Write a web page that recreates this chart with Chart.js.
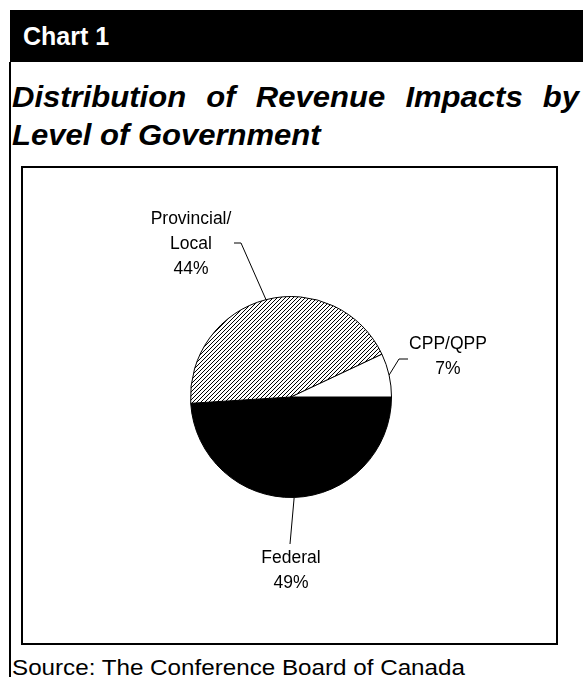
<!DOCTYPE html>
<html>
<head>
<meta charset="utf-8">
<script src="https://cdn.jsdelivr.net/npm/chart.js@4"></script>
<style>
  body { margin: 0; background: #fff; font-family: 'Liberation Sans', Arial, sans-serif; }
  #page { position: relative; width: 583px; height: 677px; overflow: hidden; }
  #hdr { position: absolute; left: 10px; top: 10px; width: 573px; height: 52px; background: #000; }
  #hdr span { position: absolute; left: 13px; top: 14px; color: #fff; font: bold 25px/25px 'Liberation Sans', Arial, sans-serif; }
  #rule { position: absolute; left: 9px; top: 62px; width: 2px; height: 615px; background: #000; }
  #title { position: absolute; left: 12px; top: 78px; width: 530px; font: italic bold 29px/38px 'Liberation Sans', Arial, sans-serif;
           text-align: justify; text-align-last: left; color: #000; transform: scaleX(1.07); transform-origin: 0 0; }
  #box { position: absolute; left: 21px; top: 166px; width: 533px; height: 475px; border: 2px solid #000; }
  #source { position: absolute; left: 12px; top: 657px; font: 22px/22px 'Liberation Sans', Arial, sans-serif; color: #000;
            white-space: nowrap; transform: scaleX(1.1); transform-origin: 0 0; }
</style>
</head>
<body>
<div id="page">
  <div id="hdr"><span>Chart 1</span></div>
  <div id="rule"></div>
  <div id="title">Distribution of Revenue Impacts by Level of Government</div>
  <div id="box"><canvas id="pie" width="533" height="475"></canvas></div>
  <div id="source">Source: The Conference Board of Canada</div>
</div>
<script>
// data
const categories = ['Federal', 'Provincial/Local', 'CPP/QPP'];
const shares = [49, 44, 7];
const labelNames = [['Federal'], ['Provincial/', 'Local'], ['CPP/QPP']];

// callout placement, px from pie centre (end of leader, short tail, first text line)
const callouts = [
  { end: [-1, 147], tail: 0, text: [0, 161] },
  { end: [-50, -154], tail: -7, text: [-100, -178] },
  { end: [108, -38], tail: 9, text: [157, -53] }
];

const canvas = document.getElementById('pie');
const ctx = canvas.getContext('2d');

// diagonal hatch for the provincial slice
function hatch() {
  const s = 4;
  const tile = document.createElement('canvas');
  tile.width = s; tile.height = s;
  const g = tile.getContext('2d');
  g.fillStyle = '#fff';
  g.fillRect(0, 0, s, s);
  g.strokeStyle = '#000';
  g.lineWidth = 1;
  g.beginPath();
  g.moveTo(0, s); g.lineTo(s, 0);
  g.moveTo(-1, 1); g.lineTo(1, -1);
  g.moveTo(s - 1, s + 1); g.lineTo(s + 1, s - 1);
  g.stroke();
  return ctx.createPattern(tile, 'repeat');
}

const calloutPlugin = {
  id: 'callouts',
  afterDraw(chart) {
    const c = chart.ctx;
    const arcs = chart.getDatasetMeta(0).data;
    c.save();
    c.strokeStyle = '#000';
    c.lineWidth = 1;
    c.fillStyle = '#000';
    c.font = '17.5px "Liberation Sans", Arial, sans-serif';
    c.textAlign = 'center';
    c.textBaseline = 'middle';
    arcs.forEach(function(arc, i) {
      const p = arc.getProps(['x', 'y', 'startAngle', 'endAngle', 'outerRadius'], true);
      const mid = (p.startAngle + p.endAngle) / 2;
      const co = callouts[i];
      const sx = p.x + Math.cos(mid) * p.outerRadius;
      const sy = p.y + Math.sin(mid) * p.outerRadius;
      const ex = p.x + co.end[0], ey = p.y + co.end[1];
      c.beginPath();
      c.moveTo(sx, sy);
      c.lineTo(ex, ey);
      if (co.tail) c.lineTo(ex + co.tail, ey);
      c.stroke();
      const lines = labelNames[i].concat([shares[i] + '%']);
      lines.forEach(function(t, k) {
        c.fillText(t, p.x + co.text[0], p.y + co.text[1] + k * 25);
      });
    });
    c.restore();
  }
};

new Chart(ctx, {
  type: 'pie',
  data: {
    labels: categories,
    datasets: [{
      data: shares,
      backgroundColor: ['#000', hatch(), '#fff'],
      borderColor: '#000',
      borderWidth: 1
    }]
  },
  options: {
    responsive: false,
    animation: false,
    rotation: 90,
    layout: { padding: { left: 167, right: 164, top: 128, bottom: 145 } },
    plugins: {
      legend: { display: false },
      tooltip: { enabled: false }
    }
  },
  plugins: [calloutPlugin]
});
</script>
</body>
</html>
